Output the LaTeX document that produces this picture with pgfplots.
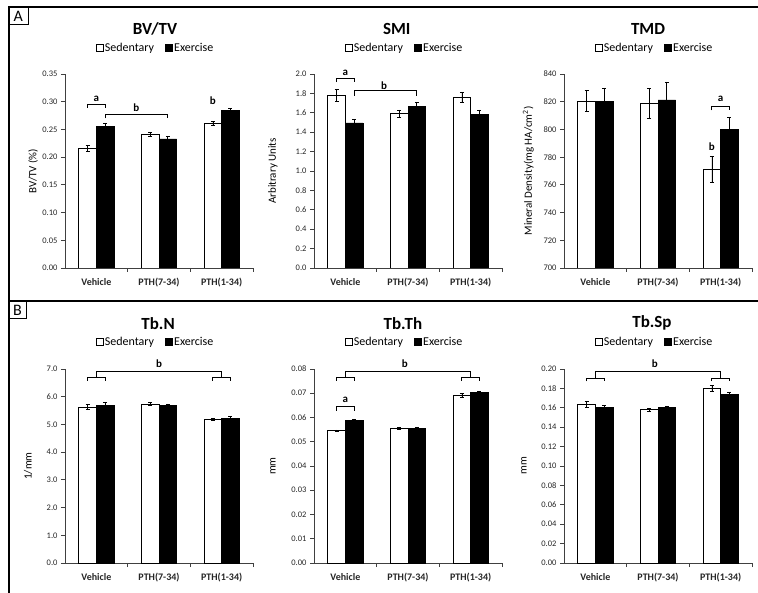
\documentclass[border=0pt]{standalone}
\usepackage{pgfplots}
\pgfplotsset{compat=1.18}
\usepackage{fontspec}
\setmainfont{Carlito}

\pgfplotsset{
  panel/.style={
    scale only axis, width=188pt, height=194pt, anchor=south west,
    xmin=-0.5, xmax=2.5,
    axis x line*=bottom, axis y line*=left,
    axis line style={black!75, line width=0.8pt, -},
    xtick={0,1,2}, xticklabels={Vehicle,PTH(7-34),PTH(1-34)},
    minor xtick={0.5,1.5,2.5},
    tick align=outside, major tick length=4pt, minor tick length=4pt,
    tick style={black!75, line width=0.8pt},
    major x tick style={draw=none},
    x tick label style={font=\bfseries\fontsize{10}{12}\selectfont, text=black!85, yshift=-3pt},
    y tick label style={font=\fontsize{8.5}{10}\selectfont, text=black!85},
    /pgf/number format/assume math mode=true,
    /pgf/number format/fixed,
    /pgf/number format/fixed zerofill,
    scaled y ticks=false,
    clip mode=individual,
    ylabel style={font=\fontsize{11}{13}\selectfont, anchor=center},
    title style={font=\bfseries\fontsize{17}{20}\selectfont, anchor=center},
    legend style={draw=none, fill=none, legend columns=2, anchor=center,
      font=\fontsize{12}{14}\selectfont,
      nodes={inner sep=1.2pt},
      /tikz/every even column/.append style={column sep=10pt}},
    legend image code/.code={\draw[#1,draw=black,line width=0.7pt] (0pt,-3.5pt) rectangle (7pt,3.5pt);},
  },
  bars/.style={ybar, bar width=0.28, bar shift=0pt, draw=black, line width=0.7pt,
    error bars/y dir=both, error bars/y explicit,
    error bars/error bar style={black, line width=0.7pt},
    error bars/error mark options={rotate=90, black, mark size=2pt, line width=0.7pt}},
  sed/.style={bars, fill=white},
  exe/.style={bars, fill=black},
  brk/.style={black, line width=0.8pt, forget plot, mark=none},
}
\newcommand{\lab}{\bfseries\fontsize{11}{13}\selectfont}

\begin{document}
\begin{tikzpicture}
\path[use as bounding box, fill=white] (0pt,0pt) rectangle (758pt,-593pt);
% frames
\draw[line width=2pt] (8.5pt,-593pt) -- (8.5pt,-7.5pt) -- (758pt,-7.5pt);
\draw[line width=2pt] (8.5pt,-301pt) -- (758pt,-301pt);
\draw[line width=1pt] (8.5pt,-7.5pt) rectangle (28pt,-25pt);
\node[font=\fontsize{16}{18}\selectfont] at (18.2pt,-16.5pt) {A};
\draw[line width=1pt] (8.5pt,-301pt) rectangle (26.5pt,-319pt);
\node[font=\fontsize{16}{18}\selectfont] at (17.5pt,-310pt) {B};

% ---------------- BV/TV
\begin{axis}[panel, at={(65pt,-268pt)},
  ymin=0, ymax=0.35, ytick={0,0.05,0.10,0.15,0.20,0.25,0.30,0.35},
  /pgf/number format/precision=2,
  title={BV/TV}, title style={at={(axis description cs:0.479,1.20)}},
  ylabel={BV/TV (\%)}, ylabel style={at={(axis description cs:-0.17,0.5)}},
  legend style={at={(axis description cs:0.48,1.134)}}]
\addplot[sed] coordinates {(-0.14,0.216) +- (0,0.005) (0.86,0.241) +- (0,0.004) (1.86,0.261) +- (0,0.004)};
\addplot[exe] coordinates {(0.14,0.256) +- (0,0.005) (1.14,0.233) +- (0,0.004) (2.14,0.284) +- (0,0.004)};
\legend{Sedentary,Exercise}
\addplot[brk] coordinates {(-0.14,0.289) (-0.14,0.295) (0.14,0.295) (0.14,0.289)};
\addplot[brk] coordinates {(0.14,0.270) (0.14,0.277) (1.14,0.277) (1.14,0.270)};
\node[font=\lab] at (axis cs:0,0.305) {a};
\node[font=\lab] at (axis cs:0.64,0.289) {b};
\node[font=\lab] at (axis cs:1.86,0.302) {b};
\end{axis}

% ---------------- SMI
\begin{axis}[panel, at={(314pt,-268pt)},
  ymin=0, ymax=2.0, ytick={0,0.2,0.4,0.6,0.8,1.0,1.2,1.4,1.6,1.8,2.0},
  /pgf/number format/precision=1,
  title={SMI}, title style={at={(axis description cs:0.44,1.20)}},
  ylabel={Arbitrary Units}, ylabel style={at={(axis description cs:-0.218,0.5)}},
  legend style={at={(axis description cs:0.48,1.134)}}]
\addplot[sed] coordinates {(-0.14,1.78) +- (0,0.065) (0.86,1.59) +- (0,0.04) (1.86,1.76) +- (0,0.055)};
\addplot[exe] coordinates {(0.14,1.495) +- (0,0.04) (1.14,1.665) +- (0,0.04) (2.14,1.585) +- (0,0.045)};
\legend{Sedentary,Exercise}
\addplot[brk] coordinates {(-0.15,1.915) (-0.15,1.956) (0.15,1.956) (0.15,1.915)};
\addplot[brk] coordinates {(0.145,1.778) (0.145,1.826) (1.13,1.826) (1.13,1.778)};
\node[font=\lab] at (axis cs:0,2.01) {a};
\node[font=\lab] at (axis cs:0.62,1.88) {b};
\end{axis}

% ---------------- TMD
\begin{axis}[panel, at={(564pt,-268pt)},
  ymin=700, ymax=840, ytick={700,720,740,760,780,800,820,840},
  /pgf/number format/precision=0,
  title={TMD}, title style={at={(axis description cs:0.447,1.20)}},
  ylabel={Mineral Density(mg HA/cm\textsuperscript{2})}, ylabel style={at={(axis description cs:-0.19,0.5)}},
  legend style={at={(axis description cs:0.48,1.134)}}]
\addplot[sed] coordinates {(-0.14,820.5) +- (0,7.8) (0.86,818.5) +- (0,10.8) (1.86,771.3) +- (0,9.5)};
\addplot[exe] coordinates {(0.14,820) +- (0,10) (1.14,821.3) +- (0,13) (2.14,799.7) +- (0,9)};
\legend{Sedentary,Exercise}
\addplot[brk] coordinates {(1.85,813.7) (1.85,816.3) (2.14,816.3) (2.14,813.7)};
\node[font=\lab] at (axis cs:2.0,822.3) {a};
\node[font=\lab] at (axis cs:1.86,787.5) {b};
\end{axis}

% ---------------- Tb.N
\begin{axis}[panel, at={(65pt,-563pt)},
  ymin=0, ymax=7.0, ytick={0,1,2,3,4,5,6,7},
  /pgf/number format/precision=1,
  title={Tb.N}, title style={at={(axis description cs:0.495,1.205)}},
  ylabel={1/mm}, ylabel style={at={(axis description cs:-0.197,0.5)}},
  legend style={at={(axis description cs:0.48,1.14)}}]
\addplot[sed] coordinates {(-0.14,5.63) +- (0,0.09) (0.86,5.74) +- (0,0.05) (1.86,5.19) +- (0,0.04)};
\addplot[exe] coordinates {(0.14,5.70) +- (0,0.08) (1.14,5.70) +- (0,0.04) (2.14,5.23) +- (0,0.05)};
\legend{Sedentary,Exercise}
\addplot[brk] coordinates {(-0.14,6.58) (-0.14,6.70) (0.14,6.70) (0.14,6.58)};
\addplot[brk] coordinates {(1.86,6.58) (1.86,6.70) (2.14,6.70) (2.14,6.58)};
\addplot[brk] coordinates {(0,6.70) (0,6.93) (2,6.93) (2,6.70)};
\node[font=\lab] at (axis cs:1,7.2) {b};
\end{axis}

% ---------------- Tb.Th
\begin{axis}[panel, at={(314pt,-563pt)},
  ymin=0, ymax=0.08, ytick={0,0.01,0.02,0.03,0.04,0.05,0.06,0.07,0.08},
  /pgf/number format/precision=2,
  title={Tb.Th}, title style={at={(axis description cs:0.473,1.205)}},
  ylabel={mm}, ylabel style={at={(axis description cs:-0.218,0.5)}},
  legend style={at={(axis description cs:0.48,1.14)}}]
\addplot[sed] coordinates {(-0.14,0.0546) +- (0,0.0003) (0.86,0.0557) +- (0,0.0004) (1.86,0.0690) +- (0,0.0008)};
\addplot[exe] coordinates {(0.14,0.0588) +- (0,0.0005) (1.14,0.0554) +- (0,0.0004) (2.14,0.0702) +- (0,0.0007)};
\legend{Sedentary,Exercise}
\addplot[brk] coordinates {(-0.15,0.0628) (-0.15,0.0645) (0.15,0.0645) (0.15,0.0628)};
\addplot[brk] coordinates {(-0.14,0.0752) (-0.14,0.0766) (0.14,0.0766) (0.14,0.0752)};
\addplot[brk] coordinates {(1.86,0.0752) (1.86,0.0766) (2.14,0.0766) (2.14,0.0752)};
\addplot[brk] coordinates {(0,0.0766) (0,0.0792) (2,0.0792) (2,0.0766)};
\node[font=\lab] at (axis cs:0,0.0672) {a};
\node[font=\lab] at (axis cs:0.95,0.0823) {b};
\end{axis}

% ---------------- Tb.Sp
\begin{axis}[panel, at={(564pt,-563pt)},
  ymin=0, ymax=0.20, ytick={0,0.02,0.04,0.06,0.08,0.10,0.12,0.14,0.16,0.18,0.20},
  /pgf/number format/precision=2,
  title={Tb.Sp}, title style={at={(axis description cs:0.468,1.205)}},
  ylabel={mm}, ylabel style={at={(axis description cs:-0.213,0.5)}},
  legend style={at={(axis description cs:0.48,1.14)}}]
\addplot[sed] coordinates {(-0.14,0.1635) +- (0,0.003) (0.86,0.158) +- (0,0.0015) (1.86,0.180) +- (0,0.003)};
\addplot[exe] coordinates {(0.14,0.1605) +- (0,0.002) (1.14,0.160) +- (0,0.0015) (2.14,0.1735) +- (0,0.002)};
\legend{Sedentary,Exercise}
\addplot[brk] coordinates {(-0.14,0.1873) (-0.14,0.1908) (0.14,0.1908) (0.14,0.1873)};
\addplot[brk] coordinates {(1.86,0.1873) (1.86,0.1908) (2.14,0.1908) (2.14,0.1873)};
\addplot[brk] coordinates {(0,0.1908) (0,0.1973) (2,0.1973) (2,0.1908)};
\node[font=\lab] at (axis cs:0.95,0.2051) {b};
\end{axis}
\end{tikzpicture}
\end{document}
